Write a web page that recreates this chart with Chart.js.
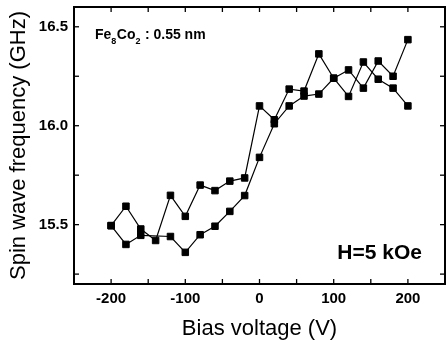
<!DOCTYPE html>
<html><head><meta charset="utf-8">
<script src="https://cdn.jsdelivr.net/npm/chart.js@4"></script>
<style>html,body{margin:0;padding:0;background:#fff}</style>
</head><body>
<canvas id="c" width="446" height="340"></canvas>
<script>
const voltsA = [-200,-180,-160,-140,-120,-100,-80,-60,-40,-20,0,20,40,60,80,100,120,140,160,180,200];
const freqA  = [15.495,15.593,15.478,15.42,15.648,15.542,15.70,15.672,15.72,15.736,16.10,16.03,16.185,16.175,16.363,16.24,16.282,16.19,16.327,16.25,16.435];
const voltsB = [-200,-180,-160,-120,-100,-80,-60,-40,-20,0,20,40,60,80,100,120,140,160,180,200];
const freqB  = [15.495,15.40,15.446,15.44,15.36,15.449,15.492,15.567,15.647,15.84,16.01,16.10,16.15,16.16,16.24,16.148,16.322,16.235,16.19,16.10];
const xTitle = 'Bias voltage (V)';
const yTitle = 'Spin wave frequency (GHz)';
const FONT = "'Liberation Sans', Arial, sans-serif";

const ptsA = voltsA.map((v,i)=>({x:v,y:freqA[i]}));
const ptsB = voltsB.map((v,i)=>({x:v,y:freqB[i]}));

const framePlugin = {
  id:'frame',
  afterDatasetsDraw(chart){
    const {ctx, chartArea:a, scales:{x,y}} = chart;
    ctx.save();
    ctx.strokeStyle='#000';
    ctx.lineWidth=1.3;
    const ln=(x1,y1,x2,y2)=>{ctx.beginPath();ctx.moveTo(x1,y1);ctx.lineTo(x2,y2);ctx.stroke();};
    x.ticks.forEach(t=>{const p=x.getPixelForValue(t.value); ln(p,a.bottom,p,a.bottom-5); ln(p,a.top,p,a.top+5);});
    y.ticks.forEach(t=>{const p=y.getPixelForValue(t.value); ln(a.left,p,a.left+5,p); ln(a.right,p,a.right-5,p);});
    ctx.lineWidth=2;
    ctx.strokeRect(a.left,a.top,a.right-a.left,a.bottom-a.top);
    ctx.fillStyle='#000';
    ctx.textBaseline='alphabetic';
    ctx.textAlign='left';
    let tx=a.left+21, ty=a.top+32;
    const big='bold 14px '+FONT, small='bold 9px '+FONT;
    const parts=[['Fe',big,0],['8',small,5],['Co',big,0],['2',small,5],[' : 0.55 nm',big,0]];
    parts.forEach(([s,f,dy])=>{ctx.font=f;ctx.fillText(s,tx,ty+dy);tx+=ctx.measureText(s).width+(dy?0.5:0);});
    ctx.font='bold 21px '+FONT;
    ctx.textAlign='right';
    ctx.fillText('H=5 kOe',a.right-23,a.bottom-25);
    ctx.restore();
  }
};

new Chart(document.getElementById('c'),{
  type:'line',
  data:{datasets:[
    {data:ptsA,borderColor:'#000',borderWidth:1.2,backgroundColor:'#000',pointStyle:'rect',pointRadius:4.6,pointBorderWidth:1,pointBackgroundColor:'#000',pointBorderColor:'#000',tension:0,fill:false},
    {data:ptsB,borderColor:'#000',borderWidth:1.2,backgroundColor:'#000',pointStyle:'rect',pointRadius:4.6,pointBorderWidth:1,pointBackgroundColor:'#000',pointBorderColor:'#000',tension:0,fill:false}
  ]},
  options:{
    responsive:false, animation:false, devicePixelRatio:1,
    layout:{autoPadding:false,padding:{left:0,right:1,top:7,bottom:0}},
    plugins:{legend:{display:false},tooltip:{enabled:false}},
    scales:{
      x:{type:'linear',min:-250,max:250,
        grid:{display:false,drawTicks:false},border:{display:false},
        ticks:{stepSize:50,includeBounds:false,autoSkip:false,maxRotation:0,padding:6,color:'#000',
          font:{family:FONT,size:15,weight:'bold'},
          callback:v=>(Math.abs(v%100)<1e-9?String(v):'')},
        title:{display:true,text:xTitle,color:'#000',font:{family:FONT,size:22,lineHeight:1},padding:{top:0,bottom:0}},
        afterFit(s){s.height=56;s.paddingLeft=0;s.paddingRight=0;}
      },
      y:{type:'linear',min:15.2,max:16.6,
        grid:{display:false,drawTicks:false},border:{display:false},
        ticks:{stepSize:0.25,includeBounds:false,padding:6,color:'#000',
          font:{family:FONT,size:15,weight:'bold'},
          callback:v=>(Math.abs(v*2-Math.round(v*2))<1e-6?v.toFixed(1):'')},
        title:{display:true,text:yTitle,color:'#000',font:{family:FONT,size:22,lineHeight:1},padding:{top:8,bottom:0}},
        afterFit(s){s.width=74;s.paddingTop=0;s.paddingBottom=0;}
      }
    }
  },
  plugins:[framePlugin]
});
</script>
</body></html>
